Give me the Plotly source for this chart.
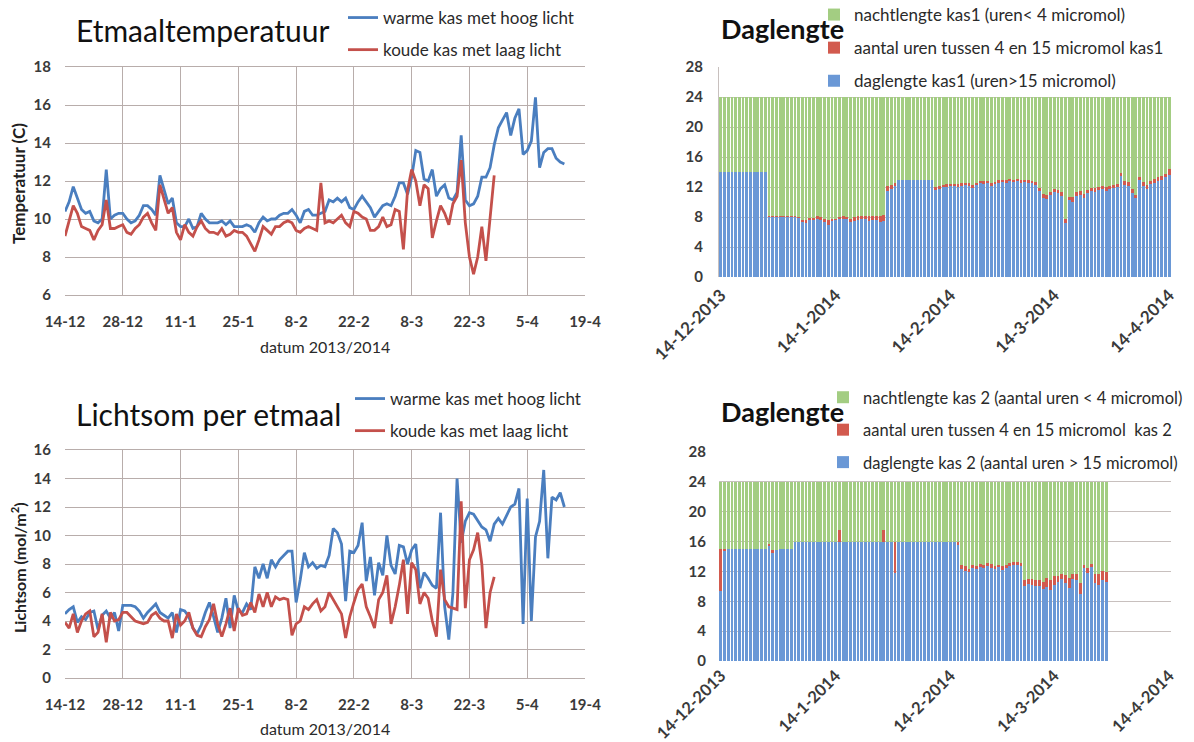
import plotly.graph_objects as go

# ---------------- data ----------------
LEFT_TICK_DAYS = [0, 14, 28, 42, 56, 70, 84, 98, 112, 126]
LEFT_TICK_TEXT = ["14-12", "28-12", "11-1", "25-1", "8-2", "22-2", "8-3", "22-3", "5-4", "19-4"]
RIGHT_TICK_DAYS = [0, 31, 62, 90, 121]
RIGHT_TICK_TEXT = ["14-12-2013", "14-1-2014", "14-2-2014", "14-3-2014", "14-4-2014"]

# daily mean temperature (C), day 0 = 14-12-2013
temp_warm = [10.4, 10.9, 11.7, 11.1, 10.5, 10.3, 10.4, 9.9, 9.8, 10.0,
             12.6, 10.0, 10.2, 10.3, 10.3, 10.0, 9.8, 9.9, 10.2, 10.7,
             10.7, 10.5, 10.2, 12.3, 11.5, 10.8, 11.1, 9.8, 9.6, 9.6,
             10.0, 9.5, 9.6, 10.3, 10.0, 9.8, 9.8, 9.8, 9.9, 9.7,
             9.9, 9.6, 9.6, 9.6, 9.7, 9.6, 9.3, 9.8, 10.1, 9.9,
             10.0, 10.0, 10.2, 10.3, 10.3, 10.5, 10.2, 9.8, 10.4, 10.5,
             10.2, 10.2, 10.3, 10.4, 11.0, 10.9, 11.1, 10.9, 11.1, 10.6,
             10.5, 10.9, 11.2, 10.9, 10.6, 10.1, 10.4, 10.7, 10.8, 10.7,
             11.2, 11.9, 11.9, 11.3, 12.2, 13.6, 13.5, 12.1, 12.0, 12.6,
             11.2, 11.6, 11.8, 11.1, 11.0, 11.4, 14.4, 11.0, 10.7, 10.8,
             11.2, 12.2, 12.2, 12.7, 13.9, 14.8, 15.2, 15.6, 14.4, 15.3,
             15.8, 13.4, 13.6, 14.1, 16.4, 12.7, 13.5, 13.7, 13.7, 13.2,
             13.0, 12.9]
temp_cold = [9.1, 9.9, 10.7, 10.3, 9.6, 9.5, 9.4, 8.9, 9.4, 9.7,
             11.0, 9.5, 9.5, 9.6, 9.7, 9.3, 9.2, 9.5, 9.7, 10.1,
             10.3, 9.8, 9.4, 11.8, 11.0, 10.3, 10.6, 9.3, 8.9, 9.7,
             9.3, 9.1, 9.6, 9.9, 9.5, 9.3, 9.3, 9.2, 9.5, 9.1,
             9.2, 9.4, 9.3, 9.3, 9.1, 8.7, 8.3, 8.9, 9.6, 9.4,
             9.2, 9.6, 9.6, 9.8, 9.9, 9.8, 9.4, 9.3, 9.5, 9.6,
             9.5, 9.4, 11.9, 9.8, 9.9, 9.8, 10.0, 10.2, 9.8, 9.6,
             10.4, 10.3, 10.1, 10.0, 9.4, 9.4, 9.6, 10.1, 9.6, 9.7,
             10.5, 10.4, 8.4, 11.5, 12.6, 12.0, 10.7, 11.8, 11.6, 9.0,
             9.9, 10.7, 10.3, 9.7, 10.8, 11.2, 13.1, 9.8, 8.0, 7.1,
             8.0, 9.6, 7.8, 10.1, 12.3]

# daily light sum (mol/m2)
light_warm = [4.5, 4.8, 5.0, 3.9, 4.3, 4.1, 4.6, 4.7, 3.4, 4.4,
              4.7, 4.2, 4.6, 3.3, 5.1, 5.1, 5.1, 5.0, 4.7, 4.2,
              4.6, 4.9, 5.2, 4.6, 4.4, 4.2, 4.6, 3.2, 4.8, 4.7,
              4.3, 3.5, 3.1, 3.7, 4.6, 5.3, 4.3, 3.2, 4.2, 5.6,
              3.5, 5.8, 4.7, 4.6, 5.2, 4.8,
              7.8, 7.0, 8.0, 7.0, 8.3, 7.8, 8.3, 8.6, 8.9, 8.9,
              5.3, 6.9, 8.8, 7.8, 8.1, 7.7, 7.9, 7.8, 8.6, 10.5,
              10.2, 9.4, 5.4, 8.9, 8.8, 9.3, 10.9,
              6.8, 8.5, 5.8, 8.1, 7.2, 10.0,
              7.9, 7.3, 9.3, 9.2, 8.0, 9.0, 9.4,
              6.3, 7.4, 7.0, 6.5, 6.3, 11.6, 5.0, 2.7,
              6.0, 14.0, 9.5, 11.0, 11.6, 11.5,
              11.0, 10.6, 10.4, 9.6, 10.8, 11.2, 10.8, 11.4, 12.0, 12.2, 13.3,
              3.8, 12.6, 4.0, 9.9, 11.0, 14.6, 8.4, 12.7, 12.5, 13.0, 12.0]
light_cold = [3.9, 3.5, 4.5, 3.2, 4.0, 4.5, 4.7, 2.9, 3.2, 4.5,
              2.5, 4.6, 4.0, 4.1, 4.6, 4.6, 4.3, 4.0, 3.9, 3.8,
              3.9, 4.4, 4.6, 4.2, 4.0, 4.0, 2.8, 4.5, 3.7, 4.0,
              4.6, 3.5, 3.0, 2.9, 3.6, 4.1, 5.2, 3.8, 2.9, 3.8,
              4.9, 3.3, 4.9, 4.4, 4.5, 5.3, 4.6, 5.9, 5.0, 6.0,
              5.0, 5.7, 5.5, 5.6, 5.5, 3.0, 3.8, 4.0, 5.0, 4.8,
              5.2, 5.5, 4.7, 5.0, 6.0, 5.5, 5.0, 4.5, 2.8, 4.3,
              5.3, 6.2, 6.6, 5.0, 4.3, 3.5, 5.5, 6.0, 7.2, 3.8,
              5.0, 6.5, 8.3, 4.5, 8.1, 7.6, 5.2, 6.0, 5.6, 4.0,
              2.9, 7.6, 5.5, 5.0, 4.9, 4.8, 12.4, 4.9, 8.3, 9.0,
              10.2, 8.0, 3.5, 6.0, 7.1]

HOURS_PER_DAY = 24

# kas 1: hours > 15 micromol and hours between 4 and 15 micromol
kas1_day = ([14.0] * 13 + [8.0] * 8 + [7.9] +
            [7.4, 7.2, 7.6, 7.7, 7.8, 7.6, 7.4, 7.0, 7.5, 7.6, 7.8, 7.8, 7.8, 7.3, 7.5, 7.6,
             7.7, 7.7, 7.5, 7.6, 7.6, 7.4, 7.5] +
            [11.5, 11.8, 12.2] + [13.0] * 10 +
            [11.6, 11.8, 12.0, 12.0, 12.1, 12.2, 12.0, 12.2, 12.3, 12.2, 11.9, 12.3, 12.5, 12.4,
             12.5, 12.2, 12.4, 12.6, 12.7, 12.6, 12.8, 12.7, 12.8, 12.6, 12.7, 12.6, 12.5, 12.3] +
            [11.5, 10.6, 10.4, 10.9, 11.3, 11.2, 10.8, 7.2, 10.3, 10.0, 10.8, 11.0, 10.5, 11.2,
             11.5, 11.4, 11.6, 11.7, 11.5, 11.8, 11.9, 12.0, 13.5, 12.3, 12.2, 11.2, 10.5, 13.0,
             12.2, 11.8, 12.4, 12.6, 12.8, 13.0, 13.3, 13.6])
kas1_mid = ([0.0] * 13 + [0.1] * 9 +
            [0.2, 0.4, 0.3, 0.2, 0.3, 0.4, 0.4, 0.6, 0.3, 0.2, 0.2, 0.3, 0.2, 0.4, 0.5, 0.6,
             0.5, 0.5, 0.6, 0.5, 0.5, 0.7, 0.8] +
            [0.7, 0.5, 0.4] + [0.0] * 10 +
            [0.4, 0.3, 0.3, 0.4, 0.3, 0.2, 0.4, 0.3, 0.2, 0.3, 0.4, 0.3, 0.3, 0.4,
             0.3, 0.4, 0.3, 0.3, 0.2, 0.4, 0.3, 0.3, 0.3, 0.4, 0.3, 0.3, 0.3, 0.4] +
            [0.4, 0.5, 0.6, 0.5, 0.5, 0.4, 0.5, 0.6, 0.4, 0.7, 0.5, 0.5, 0.6, 0.4,
             0.4, 0.5, 0.4, 0.4, 0.5, 0.4, 0.4, 0.4, 0.4, 0.5, 0.5, 0.6, 0.5, 0.3,
             0.5, 0.5, 0.4, 0.5, 0.5, 0.5, 0.5, 0.8])

# kas 2
kas2_day = ([9.4, 14.8] + [15.0] * 11 + [15.5, 14.5] + [14.9, 15.0, 15.0, 15.0, 15.0] +
            [16.0] * 27 + [11.8] + [16.0] * 16 + [15.6] +
            [12.3, 12.1, 11.9, 12.4, 12.3, 12.6, 12.4, 12.7, 12.5, 12.3, 12.6, 12.2, 12.4, 12.7,
             12.8, 12.9, 12.7] +
            [10.0, 10.3, 10.2, 10.1, 10.0, 9.6, 9.9, 9.5, 10.2, 10.6, 11.0, 10.5, 9.8, 11.0,
             10.8, 9.0, 12.5, 11.8, 12.6, 10.5, 10.2, 10.8, 10.6])
kas2_mid = ([5.6, 0.2] + [0.0] * 11 + [0.2, 0.4] + [0.0] * 5 +
            [0.0] * 12 + [1.5] + [0.0] * 11 + [1.6] + [0.0] * 2 + [4.2] + [0.0] * 16 + [0.3] +
            [0.5, 0.6, 0.4, 0.5, 0.4, 0.4, 0.5, 0.4, 0.5, 0.4, 0.3, 0.5, 0.5, 0.4, 0.4, 0.3, 0.4] +
            [0.9, 0.7, 0.8, 0.7, 0.9, 1.0, 1.2, 1.4, 1.2, 0.8, 0.7, 1.0, 1.3, 0.6, 0.9, 1.5,
             0.3, 0.6, 0.4, 1.2, 1.5, 1.2, 1.3])

kas1_night = [HOURS_PER_DAY - d - m for d, m in zip(kas1_day, kas1_mid)]
kas2_night = [HOURS_PER_DAY - d - m for d, m in zip(kas2_day, kas2_mid)]

# ---------------- style ----------------
FONT = "Lato"
BLUE_LINE = "#4a7ebf"
RED_LINE = "#c4504b"
BAR_BLUE = "#6a98d6"
BAR_RED = "#d25a4e"
BAR_GREEN = "#a3cd82"
GRID_L = "#b8adab"
GRID_R = "#c8c0be"
TICKC = "#3a3a3a"
TXT = "#2a2a2a"

W, H = 1194, 742
def px_x(a, b):
    return [a / W, b / W]
def px_y(top, bottom):
    return [1 - bottom / H, 1 - top / H]
def fx(p):
    return p / W
def fy(p):
    return 1 - p / H

fig = go.Figure()

# top-left temperature
fig.add_trace(go.Scatter(x=list(range(len(temp_warm))), y=temp_warm, mode="lines",
                         name="warme kas met hoog licht", line=dict(color=BLUE_LINE, width=2.8),
                         xaxis="x", yaxis="y", legend="legend", legendgroup="a"))
fig.add_trace(go.Scatter(x=list(range(len(temp_cold))), y=temp_cold, mode="lines",
                         name="koude kas met laag licht", line=dict(color=RED_LINE, width=2.8),
                         xaxis="x", yaxis="y", legend="legend", legendgroup="b"))
# bottom-left light sum
fig.add_trace(go.Scatter(x=list(range(len(light_warm))), y=light_warm, mode="lines",
                         name="warme kas met hoog licht", line=dict(color=BLUE_LINE, width=2.8),
                         xaxis="x2", yaxis="y2", legend="legend2", legendgroup="c"))
fig.add_trace(go.Scatter(x=list(range(len(light_cold))), y=light_cold, mode="lines",
                         name="koude kas met laag licht", line=dict(color=RED_LINE, width=2.8),
                         xaxis="x2", yaxis="y2", legend="legend2", legendgroup="d"))

# top-right daglengte kas1
d1 = list(range(len(kas1_day)))
fig.add_trace(go.Bar(x=d1, y=kas1_day, name="daglengte kas1 (uren>15 micromol)",
                     marker=dict(color=BAR_BLUE, line=dict(width=0)), xaxis="x3", yaxis="y3",
                     legend="legend3", legendgroup="e", legendrank=3))
fig.add_trace(go.Bar(x=d1, y=kas1_mid, name="aantal uren tussen 4 en 15 micromol kas1",
                     marker=dict(color=BAR_RED, line=dict(width=0)), xaxis="x3", yaxis="y3",
                     legend="legend3", legendgroup="f", legendrank=2))
fig.add_trace(go.Bar(x=d1, y=kas1_night, name="nachtlengte kas1 (uren< 4 micromol)",
                     marker=dict(color=BAR_GREEN, line=dict(width=0)), xaxis="x3", yaxis="y3",
                     legend="legend3", legendgroup="g", legendrank=1))
# bottom-right daglengte kas2
d2 = list(range(len(kas2_day)))
fig.add_trace(go.Bar(x=d2, y=kas2_day, name="daglengte kas 2 (aantal uren > 15 micromol)",
                     marker=dict(color=BAR_BLUE, line=dict(width=0)), xaxis="x4", yaxis="y4",
                     legend="legend4", legendgroup="h", legendrank=3))
fig.add_trace(go.Bar(x=d2, y=kas2_mid, name="aantal uren tussen 4 en 15 micromol  kas 2",
                     marker=dict(color=BAR_RED, line=dict(width=0)), xaxis="x4", yaxis="y4",
                     legend="legend4", legendgroup="i", legendrank=2))
fig.add_trace(go.Bar(x=d2, y=kas2_night, name="nachtlengte kas 2 (aantal uren < 4 micromol)",
                     marker=dict(color=BAR_GREEN, line=dict(width=0)), xaxis="x4", yaxis="y4",
                     legend="legend4", legendgroup="j", legendrank=1))

tickfont_l = dict(family=FONT, size=15, color=TICKC, weight="bold")
tickfont_ry = dict(family=FONT, size=15, color=TICKC, weight="bold")
tickfont_rx = dict(family=FONT, size=17, color=TICKC, weight="bold")
tickfont_rx2 = dict(family=FONT, size=16.5, color=TICKC, weight="bold")

def left_x(anchor):
    return dict(domain=px_x(65, 585), range=[0, 126], tickvals=LEFT_TICK_DAYS,
                ticktext=LEFT_TICK_TEXT, showgrid=True, gridcolor=GRID_L, gridwidth=1.4,
                showline=True, linecolor=GRID_L, linewidth=1.4, mirror=True, ticks="",
                tickfont=tickfont_l, zeroline=False, anchor=anchor, automargin=False,
                ticklabelstandoff=13)

def left_y(anchor, dom, rng):
    return dict(domain=dom, range=rng, dtick=2, showgrid=True, gridcolor=GRID_L,
                gridwidth=1.4, tickfont=tickfont_l, ticks="", zeroline=False, anchor=anchor,
                automargin=False, ticklabelstandoff=13)

def right_x(anchor, font, standoff):
    return dict(domain=px_x(719, 1171), range=[-0.5, 121.5], tickvals=RIGHT_TICK_DAYS,
                ticktext=RIGHT_TICK_TEXT, tickangle=-45, showgrid=False, showline=False,
                ticks="", tickfont=font, zeroline=False, anchor=anchor, automargin=False,
                ticklabelstandoff=standoff)

def right_y(anchor, dom, line):
    return dict(domain=dom, range=[0, 28], dtick=4, showgrid=True, gridcolor=GRID_R,
                gridwidth=1.3, tickfont=tickfont_ry, ticks="", zeroline=False, anchor=anchor,
                showline=line, linecolor=GRID_R, linewidth=1.3, ticklabelstandoff=12,
                automargin=False)

legfont = dict(family=FONT, size=17, color=TXT)
legfont_br = dict(family=FONT, size=16.5, color=TXT)

fig.update_layout(
    width=W, height=H, margin=dict(l=0, r=0, t=0, b=0, autoexpand=False),
    paper_bgcolor="white", plot_bgcolor="white",
    barmode="stack", bargap=0.24,
    font=dict(family=FONT, color=TICKC),
    xaxis=left_x("y"),
    yaxis=left_y("x", px_y(67, 295), [6, 18]),
    xaxis2=left_x("y2"),
    yaxis2=left_y("x2", px_y(450, 678), [0, 16]),
    xaxis3=right_x("y3", tickfont_rx, 4),
    yaxis3=right_y("x3", px_y(67, 277), True),
    xaxis4=right_x("y4", tickfont_rx2, 1),
    yaxis4=right_y("x4", px_y(452, 661), False),
    legend=dict(x=fx(343), y=fy(0), xanchor="left", yanchor="top", bgcolor="rgba(0,0,0,0)",
                font=legfont, tracegroupgap=7, traceorder="grouped", itemwidth=30),
    legend2=dict(x=fx(350), y=fy(381), xanchor="left", yanchor="top", bgcolor="rgba(0,0,0,0)",
                 font=legfont, tracegroupgap=7, traceorder="grouped", itemwidth=30),
    legend3=dict(x=fx(814), y=fy(-3), xanchor="left", yanchor="top", bgcolor="rgba(0,0,0,0)",
                 font=legfont, tracegroupgap=8, traceorder="grouped", itemwidth=30),
    legend4=dict(x=fx(823), y=fy(380), xanchor="left", yanchor="top", bgcolor="rgba(0,0,0,0)",
                 font=legfont_br, tracegroupgap=8, traceorder="grouped", itemwidth=30),
    annotations=[
        dict(text="Etmaaltemperatuur", x=fx(74), y=fy(30), xref="paper", yref="paper",
             xanchor="left", yanchor="middle", showarrow=False,
             font=dict(family=FONT, size=30, color="#111111")),
        dict(text="Lichtsom per etmaal", x=fx(74), y=fy(414), xref="paper", yref="paper",
             xanchor="left", yanchor="middle", showarrow=False,
             font=dict(family=FONT, size=30, color="#111111")),
        dict(text="<b>Daglengte</b>", x=fx(719), y=fy(29), xref="paper", yref="paper",
             xanchor="left", yanchor="middle", showarrow=False,
             font=dict(family=FONT, size=27, color="#111111")),
        dict(text="<b>Daglengte</b>", x=fx(719), y=fy(411), xref="paper", yref="paper",
             xanchor="left", yanchor="middle", showarrow=False,
             font=dict(family=FONT, size=27, color="#111111")),
        dict(text="datum 2013/2014", x=fx(325), y=fy(346), xref="paper", yref="paper",
             xanchor="center", yanchor="middle", showarrow=False,
             font=dict(family=FONT, size=16, color=TXT)),
        dict(text="datum 2013/2014", x=fx(325), y=fy(728), xref="paper", yref="paper",
             xanchor="center", yanchor="middle", showarrow=False,
             font=dict(family=FONT, size=16, color=TXT)),
        dict(text="<b>Temperatuur (C)</b>", x=fx(18), y=fy(184), xref="paper", yref="paper",
             xanchor="center", yanchor="middle", showarrow=False, textangle=-90,
             font=dict(family=FONT, size=17, color="#202020")),
        dict(text="<b>Lichtsom (mol/m<sup>2</sup>)</b>", x=fx(18), y=fy(568), xref="paper",
             yref="paper", xanchor="center", yanchor="middle", showarrow=False, textangle=-90,
             font=dict(family=FONT, size=16, color="#202020")),
    ],
)

fig.write_html("out.html", config={"displayModeBar": False},
               post_script="document.body.style.margin='0px';")
